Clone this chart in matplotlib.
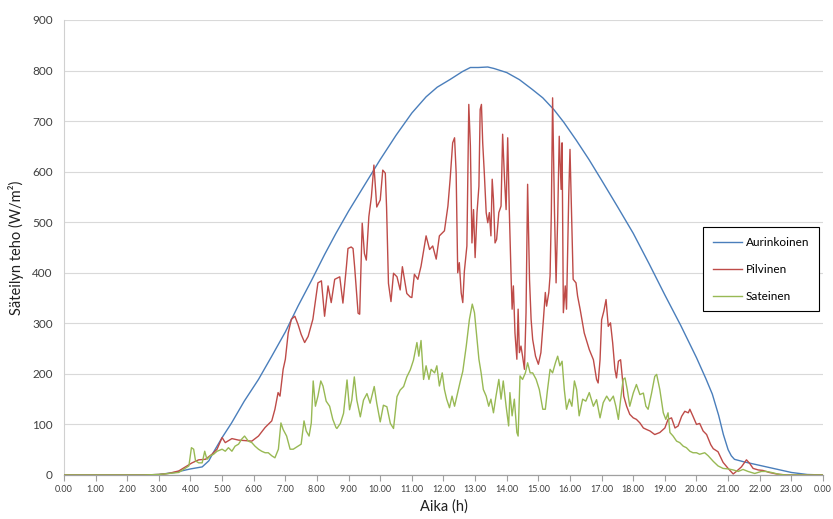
import matplotlib
matplotlib.use('Agg')
import matplotlib.pyplot as plt

plt.rcParams['font.family'] = ['Lato', 'DejaVu Sans']

# Aurinkoinen (aurinkoinen paiva)
sun_t = [0, 2.5, 3.0, 3.5, 4.0, 4.37, 4.58, 4.7, 5.0, 5.3, 5.7, 6.15, 6.57, 7.0, 7.4, 7.82,
         8.24, 8.6, 9.0, 9.45, 10.0, 10.5, 11.0, 11.45, 11.8, 12.2, 12.6, 12.85, 13.1, 13.4,
         13.6, 14.0, 14.4, 14.8, 15.14, 15.5, 15.8, 16.2, 16.6, 17.0, 17.5, 18.0, 18.5,
         19.0, 19.5, 20.0, 20.3, 20.5, 20.7, 20.85, 21.0, 21.1, 21.2, 21.5, 22.0, 22.5,
         23.0, 23.5, 24.0]
sun_v = [0, 0, 1, 5, 12, 16, 28, 42, 74, 103, 146, 189, 235, 283, 334, 384,
         436, 478, 522, 568, 624, 672, 716, 748, 767, 782, 798, 806, 806, 807,
         804, 796, 782, 763, 746, 722, 698, 662, 624, 583, 531, 478, 418,
         356, 296, 232, 190, 160, 118, 80, 50, 38, 31, 26, 19, 12,
         5, 1, 0]

# Pilvinen
cloud_t = [0, 2.5, 3.0, 3.3, 3.63, 4.05, 4.26, 4.47, 4.68, 4.84, 5.0, 5.1, 5.31, 5.52, 5.73,
           5.94, 6.15, 6.36, 6.57, 6.67, 6.77, 6.83, 6.93, 7.0, 7.09, 7.19, 7.3, 7.4, 7.5,
           7.61, 7.72, 7.87, 8.03, 8.14, 8.24, 8.35, 8.45, 8.56, 8.66, 8.72, 8.82, 8.93,
           8.98, 9.08, 9.14, 9.19, 9.3, 9.35, 9.43, 9.5, 9.56, 9.64, 9.72, 9.8, 9.89, 10.0,
           10.08, 10.16, 10.2, 10.26, 10.34, 10.42, 10.53, 10.63, 10.7, 10.84, 10.95, 11.0,
           11.08, 11.19, 11.29, 11.45, 11.56, 11.66, 11.77, 11.87, 12.03, 12.14, 12.21,
           12.29, 12.35, 12.4, 12.45, 12.5, 12.56, 12.61, 12.66, 12.74, 12.8, 12.85, 12.9,
           12.95, 13.0, 13.06, 13.12, 13.16, 13.2, 13.24, 13.29, 13.35, 13.4, 13.45, 13.5,
           13.54, 13.58, 13.63, 13.68, 13.75, 13.82, 13.87, 13.93, 13.98, 14.03, 14.08,
           14.14, 14.17, 14.21, 14.26, 14.32, 14.36, 14.4, 14.45, 14.5, 14.56, 14.61, 14.66,
           14.72, 14.77, 14.82, 14.91, 15.0, 15.08, 15.16, 15.22, 15.26, 15.33, 15.37, 15.41,
           15.45, 15.51, 15.56, 15.61, 15.66, 15.72, 15.75, 15.79, 15.85, 15.89, 15.96, 16.0,
           16.04, 16.1, 16.19, 16.24, 16.32, 16.45, 16.61, 16.74, 16.84, 16.89, 16.95, 17.0,
           17.07, 17.14, 17.21, 17.28, 17.35, 17.42, 17.47, 17.53, 17.6, 17.66, 17.7, 17.79,
           17.89, 18.0, 18.1, 18.21, 18.32, 18.42, 18.53, 18.68, 18.84, 19.0, 19.1, 19.21,
           19.32, 19.42, 19.53, 19.63, 19.74, 19.79, 19.89, 20.0, 20.1, 20.21, 20.32, 20.45,
           20.53, 20.68, 20.84, 21.0, 21.16, 21.26, 21.42, 21.58, 21.68, 21.79, 21.95, 22.1,
           22.3, 22.53, 22.84, 24.0]
cloud_v = [0, 0, 1, 3, 8, 24, 30, 31, 41, 51, 74, 64, 72, 69, 68,
           67, 77, 94, 107, 130, 163, 156, 209, 229, 281, 308, 314, 298, 278,
           262, 274, 308, 380, 384, 314, 374, 341, 387, 390, 392, 340, 412,
           448, 451, 448, 412, 320, 318, 498, 438, 425, 511, 550, 613, 530, 544,
           603, 597, 530, 379, 343, 399, 392, 366, 412, 359, 352, 351,
           397, 387, 413, 473, 446, 453, 427, 473, 483, 532, 585,
           657, 667, 598, 400, 420, 360, 341, 403, 453, 733, 651, 459,
           525, 430, 519, 571, 723, 733, 657, 598, 519, 499, 519, 473,
           585, 545, 459, 466, 519, 532, 674, 585, 525, 667, 525,
           387, 328, 374, 281, 229, 328, 242, 255, 235, 209, 321, 575,
           387, 308, 268, 235, 219, 242, 308, 361, 334, 361, 394, 519,
           746, 519, 380, 506, 670, 565, 657, 321, 374, 328, 552, 644,
           539, 387, 380, 354, 328, 281, 248, 228, 189, 182, 228, 307,
           324, 347, 294, 301, 261, 209, 192, 225, 228, 189, 156, 136,
           120, 113, 110, 103, 93, 90, 87, 80, 84, 93, 110, 113,
           93, 97, 116, 126, 123, 130, 116, 100, 102, 87, 80, 60,
           52, 46, 25, 13, 2, 7, 16, 30, 23, 13, 10, 9,
           5, 2, 0, 0]

# Sateinen
rain_t = [0, 2.5, 3.0, 3.3, 3.63, 3.95, 4.03, 4.1, 4.16, 4.26, 4.37, 4.45, 4.52, 4.63, 4.73,
          4.84, 5.0, 5.1, 5.2, 5.31, 5.41, 5.52, 5.62, 5.71, 5.83, 5.94, 6.04, 6.15, 6.25,
          6.36, 6.46, 6.57, 6.67, 6.78, 6.86, 6.93, 7.04, 7.15, 7.25, 7.4, 7.5, 7.59, 7.66,
          7.75, 7.82, 7.88, 7.95, 8.03, 8.12, 8.19, 8.29, 8.4, 8.5, 8.6, 8.63, 8.74, 8.84,
          8.95, 9.03, 9.1, 9.18, 9.26, 9.37, 9.47, 9.58, 9.68, 9.81, 9.89, 10.0, 10.1, 10.21,
          10.32, 10.42, 10.53, 10.63, 10.74, 10.84, 10.95, 11.05, 11.16, 11.22, 11.29, 11.37,
          11.45, 11.54, 11.61, 11.72, 11.79, 11.87, 11.96, 12.03, 12.1, 12.19, 12.27, 12.35,
          12.45, 12.53, 12.61, 12.72, 12.82, 12.91, 12.98, 13.05, 13.12, 13.19, 13.26, 13.35,
          13.43, 13.5, 13.58, 13.66, 13.75, 13.82, 13.89, 13.98, 14.06, 14.1, 14.17, 14.24,
          14.32, 14.36, 14.42, 14.5, 14.59, 14.66, 14.74, 14.82, 14.93, 15.03, 15.14, 15.22,
          15.29, 15.37, 15.45, 15.54, 15.61, 15.68, 15.75, 15.82, 15.89, 15.98, 16.06, 16.14,
          16.21, 16.29, 16.4, 16.5, 16.61, 16.74, 16.84, 16.95, 17.05, 17.16, 17.26, 17.37,
          17.45, 17.53, 17.6, 17.68, 17.74, 17.81, 17.89, 18.0, 18.1, 18.21, 18.32, 18.4,
          18.47, 18.58, 18.68, 18.74, 18.84, 18.95, 19.03, 19.1, 19.16, 19.26, 19.37, 19.47,
          19.58, 19.68, 19.79, 19.89, 20.0, 20.1, 20.26, 20.37, 20.53, 20.68, 20.84, 21.0,
          21.16, 21.32, 21.47, 21.63, 21.84, 22.05, 22.21, 22.37, 22.63, 22.84, 24.0]
rain_v = [0, 0, 1, 3, 5, 18, 54, 51, 28, 24, 24, 47, 31, 38, 41,
          47, 51, 47, 54, 47, 57, 61, 71, 77, 67, 64, 57, 51, 47,
          44, 44, 38, 34, 51, 103, 90, 77, 51, 51, 57, 61, 107, 87,
          77, 103, 186, 136, 156, 186, 176, 146, 136, 110, 94, 92, 102, 122,
          188, 129, 148, 194, 148, 115, 148, 161, 142, 175, 142, 105, 138, 135,
          102, 92, 155, 168, 175, 194, 208, 227, 262, 235, 266, 189,
          216, 189, 209, 202, 216, 176, 202, 169, 150, 133, 156, 136,
          163, 185, 205, 255, 308, 338, 321, 275, 229, 202, 169, 156,
          136, 150, 123, 156, 189, 150, 186, 136, 97, 163, 117, 150,
          84, 77, 196, 189, 202, 222, 202, 202, 189, 169, 130, 130,
          169, 209, 202, 222, 235, 216, 225, 169, 130, 150, 136, 186,
          169, 117, 150, 146, 163, 136, 149, 113, 143, 156, 146, 156,
          136, 110, 149, 189, 192, 169, 136, 162, 179, 159, 162, 136,
          130, 162, 195, 199, 169, 123, 110, 123, 84, 77, 67, 64,
          57, 54, 47, 44, 44, 41, 44, 38, 27, 18, 13, 12,
          10, 7, 11, 7, 3, 7, 7, 5, 1, 0, 0]

hour_ticks = list(range(25))
hour_labels = ['%d.00' % (h % 24) for h in hour_ticks]
y_ticks = list(range(0, 901, 100))

fig = plt.figure(figsize=(8.33, 5.19), dpi=100)
ax = fig.add_axes([0.0768, 0.0848, 0.9112, 0.8767])

ax.plot(sun_t, sun_v, color='#4a7ebb', lw=1.0, label='Aurinkoinen', zorder=3)
ax.plot(cloud_t, cloud_v, color='#be4b48', lw=1.0, label='Pilvinen', zorder=4)
ax.plot(rain_t, rain_v, color='#98b954', lw=1.0, label='Sateinen', zorder=5)

ax.set_xlim(0, 24)
ax.set_ylim(0, 900)
ax.set_xticks(hour_ticks)
ax.set_xticklabels(hour_labels, fontsize=6.5, color='#404040')
ax.set_yticks(y_ticks)
ax.set_yticklabels([str(v) for v in y_ticks], fontsize=8.5, color='#404040')
ax.tick_params(axis='x', direction='out', length=4, width=0.8, color='#a0a0a0', pad=3)
ax.tick_params(axis='y', length=0, pad=8)

ax.grid(axis='y', color='#d9d9d9', lw=0.8)
ax.set_axisbelow(True)
for side in ['top', 'right']:
    ax.spines[side].set_visible(False)
ax.spines['bottom'].set_color('#a0a0a0')
ax.spines['left'].set_color('#d0d0d0')
ax.spines['bottom'].set_linewidth(0.9)
ax.spines['left'].set_linewidth(0.8)

ax.set_xlabel('Aika (h)', fontsize=10.5, color='#202020', labelpad=4)
ax.set_ylabel('Säteilyn teho (W/m²)', fontsize=10.5, color='#202020', labelpad=6)

leg = ax.legend(loc='center left', bbox_to_anchor=(0.842, 0.452), fontsize=8.5,
                frameon=True, fancybox=False, edgecolor='black', framealpha=1,
                handlelength=2.5, labelspacing=1.35, borderpad=0.8, handletextpad=0.3,
                borderaxespad=0)
leg.get_frame().set_linewidth(0.8)

fig.savefig('out.png', dpi=100)
